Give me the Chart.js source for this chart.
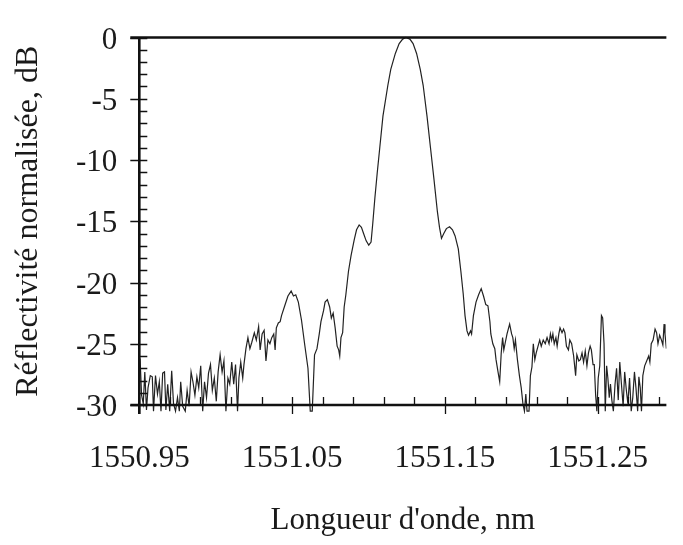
<!DOCTYPE html>
<html>
<head>
<meta charset="utf-8">
<script src="https://cdn.jsdelivr.net/npm/chart.js@4.4.1/dist/chart.umd.min.js"></script>
<style>
  html, body { margin: 0; padding: 0; background: #fff; }
  #wrap { width: 683px; height: 545px; }
</style>
</head>
<body>
<div id="wrap"><canvas id="spectrum" width="683" height="545"></canvas></div>
<script>
// Longueur d'onde (nm)
const wavelength = [
  1550.9505, 1550.9515, 1550.9526, 1550.9536, 1550.9547, 1550.9557, 1550.9572, 1550.9585, 1550.9593, 1550.9606,
  1550.9619, 1550.9631, 1550.9642, 1550.9653, 1550.9665, 1550.9674, 1550.9686, 1550.9699, 1550.9712, 1550.9724,
  1550.9737, 1550.9750, 1550.9762, 1550.9771, 1550.9784, 1550.9801, 1550.9813, 1550.9826, 1550.9839, 1550.9851,
  1550.9864, 1550.9877, 1550.9889, 1550.9902, 1550.9915, 1550.9927, 1550.9940, 1550.9953, 1550.9966, 1550.9978,
  1550.9991, 1551.0004, 1551.0016, 1551.0029, 1551.0042, 1551.0054, 1551.0067, 1551.0080, 1551.0092, 1551.0105,
  1551.0118, 1551.0130, 1551.0143, 1551.0152, 1551.0164, 1551.0177, 1551.0185, 1551.0198, 1551.0211, 1551.0224,
  1551.0236, 1551.0253, 1551.0266, 1551.0281, 1551.0291, 1551.0304, 1551.0317, 1551.0329, 1551.0342, 1551.0355,
  1551.0367, 1551.0380, 1551.0389, 1551.0397, 1551.0410, 1551.0422, 1551.0431, 1551.0452, 1551.0473, 1551.0494,
  1551.0509, 1551.0524, 1551.0541, 1551.0562, 1551.0583, 1551.0604, 1551.0619, 1551.0632, 1551.0647, 1551.0663,
  1551.0678, 1551.0689, 1551.0706, 1551.0716, 1551.0731, 1551.0746, 1551.0757, 1551.0769, 1551.0782, 1551.0795,
  1551.0805, 1551.0812, 1551.0820, 1551.0831, 1551.0841, 1551.0852, 1551.0869, 1551.0886,
  1551.0907, 1551.0922, 1551.0939, 1551.0954, 1551.0968, 1551.0985, 1551.1002, 1551.1017, 1551.1028, 1551.1042,
  1551.1057, 1551.1074, 1551.1095, 1551.1127, 1551.1146, 1551.1176, 1551.1201, 1551.1224, 1551.1245, 1551.1271,
  1551.1292, 1551.1315, 1551.1339, 1551.1358, 1551.1383, 1551.1406, 1551.1429, 1551.1451, 1551.1465, 1551.1478,
  1551.1493, 1551.1510, 1551.1531, 1551.1550, 1551.1567,
  1551.1588, 1551.1605, 1551.1620, 1551.1632, 1551.1645, 1551.1655, 1551.1668, 1551.1675, 1551.1687, 1551.1704,
  1551.1721, 1551.1738, 1551.1753, 1551.1768, 1551.1782, 1551.1795, 1551.1801, 1551.1814, 1551.1827, 1551.1835,
  1551.1848, 1551.1859, 1551.1869, 1551.1878, 1551.1886, 1551.1894, 1551.1907, 1551.1924, 1551.1937, 1551.1945,
  1551.1954, 1551.1962, 1551.1975, 1551.1988, 1551.2000, 1551.2011, 1551.2021, 1551.2030, 1551.2038, 1551.2051,
  1551.2060, 1551.2070, 1551.2079, 1551.2089, 1551.2098, 1551.2110, 1551.2121, 1551.2131, 1551.2144, 1551.2157,
  1551.2169, 1551.2182, 1551.2191, 1551.2199, 1551.2207, 1551.2216, 1551.2227, 1551.2235, 1551.2246, 1551.2254,
  1551.2267, 1551.2277, 1551.2286, 1551.2296, 1551.2309, 1551.2318, 1551.2330, 1551.2343, 1551.2356, 1551.2364,
  1551.2377, 1551.2387, 1551.2398, 1551.2408, 1551.2419, 1551.2430, 1551.2440, 1551.2451, 1551.2459, 1551.2470,
  1551.2478, 1551.2487, 1551.2495, 1551.2504, 1551.2514, 1551.2525, 1551.2533, 1551.2542, 1551.2550, 1551.2559,
  1551.2567, 1551.2576, 1551.2584, 1551.2593, 1551.2603, 1551.2614, 1551.2624, 1551.2635, 1551.2645, 1551.2656,
  1551.2667, 1551.2677, 1551.2688, 1551.2698, 1551.2709, 1551.2720, 1551.2730, 1551.2741, 1551.2751, 1551.2762,
  1551.2770, 1551.2779, 1551.2787, 1551.2796, 1551.2808, 1551.2821, 1551.2834, 1551.2842, 1551.2851, 1551.2863,
  1551.2876, 1551.2886, 1551.2895, 1551.2906, 1551.2918, 1551.2927, 1551.2935, 1551.2941, 1551.2950
];

// Réflectivité normalisée (dB)
const reflectivity = [
  -26.2, -29.2, -29.9, -27.3, -30.4, -28.6, -27.6, -27.7, -30.5, -27.6,
  -29.1, -28.1, -30.5, -27.4, -27.3, -30.4, -28.3, -30.5, -27.2, -29.9,
  -30.5, -29.4, -30.5, -28.1, -30.1, -30.5, -28.8, -30.1, -27.3, -28.1,
  -29.2, -27.7, -28.6, -26.8, -30.5, -28.1, -29.4, -27.4, -26.7, -28.8,
  -27.8, -29.7, -27.3, -25.9, -27.3, -26.4, -30.5, -27.8, -28.3, -26.5,
  -28.3, -26.7, -30.5, -27.8, -26.5, -27.8, -26.7, -25.4, -24.5, -25.4,
  -24.9, -24.1, -24.7, -23.6, -25.5, -24.2, -23.9, -26.4, -24.7, -25.0,
  -24.5, -24.2, -25.5, -23.7, -23.3, -23.2, -22.7, -21.9, -21.1, -20.7,
  -21.1, -21.0, -21.6, -23.1, -25.1, -27.0, -30.5, -30.5, -25.9, -25.4,
  -24.2, -23.2, -22.3, -21.6, -21.4, -22.0, -22.9, -22.5, -23.7, -25.2,
  -25.5, -26.0, -24.5, -24.1, -22.0, -21.0, -19.1, -17.8,
  -16.5, -15.7, -15.3, -15.5, -16.0, -16.6, -16.95, -16.7, -15.2, -13.1,
  -11.1, -9.0, -6.4, -3.9, -2.6, -1.3, -0.5, -0.13, 0.0, -0.13,
  -0.5, -1.3, -2.6, -3.9, -6.4, -9.0, -11.6, -14.2, -15.5, -16.4,
  -16.0, -15.6, -15.45, -15.7, -16.2,
  -17.25, -19.1, -20.9, -22.7, -23.95, -24.3, -23.95, -24.2, -22.7, -21.6,
  -21.0, -20.5, -21.1, -21.8, -21.9, -23.2, -24.2, -25.0, -25.4, -26.3,
  -27.3, -28.1, -25.75, -24.5, -25.5, -25.0, -24.2, -23.4, -24.2, -24.5,
  -25.4, -24.7, -26.3, -27.6, -28.6, -29.9, -30.5, -29.1, -30.5, -30.5,
  -27.6, -26.9, -25.0, -26.3, -25.75, -25.2, -24.7, -25.2, -24.7, -25.0,
  -24.5, -25.0, -24.2, -24.7, -24.2, -25.0, -24.5, -25.2, -24.2, -23.7,
  -24.1, -23.8, -24.1, -25.2, -25.5, -24.7, -25.0, -26.0, -27.6, -25.9,
  -26.4, -26.3, -25.75, -26.5, -25.6, -26.8, -25.75, -25.2, -25.5, -26.7,
  -26.7, -29.2, -30.5, -27.8, -26.8, -22.7, -22.9, -25.0, -30.5, -26.8,
  -27.8, -29.4, -28.3, -29.6, -30.5, -28.3, -27.0, -29.6, -26.5, -28.3,
  -30.1, -27.3, -28.8, -29.9, -27.8, -30.5, -29.4, -27.3, -28.6, -30.5,
  -27.7, -28.6, -30.5, -27.6, -26.8, -26.4, -26.0, -26.5, -25.0, -24.7,
  -23.8, -24.1, -25.0, -24.3, -24.7, -25.1, -23.4, -24.2, -25.4
];

const xTickValues = [1550.95, 1551.05, 1551.15, 1551.25];
const xMin = 1550.95;
const xMax = 1551.295;
const xMinorStep = 0.02;
const yMin = -30;
const yMax = 0;
const yMajorStep = 5;
const yMinorStep = 1;

const axisColor = '#111';
const fontFamily = '"Liberation Serif", "Times New Roman", serif';

// axes du cadre + graduations intérieures
const frameTicks = {
    id: 'frameTicks',
    afterDatasetsDraw(chart) {
        const { ctx, chartArea: a, scales: { x, y } } = chart;
        ctx.save();
        ctx.strokeStyle = axisColor;
        ctx.lineCap = 'butt';

        // cadre
        ctx.lineWidth = 2.6;
        ctx.beginPath();
        ctx.moveTo(a.left - 9, a.top);
        ctx.lineTo(a.right, a.top);
        ctx.moveTo(a.left - 9, a.bottom);
        ctx.lineTo(a.right, a.bottom);
        ctx.moveTo(a.left, a.top);
        ctx.lineTo(a.left, a.bottom + 9);
        ctx.stroke();

        ctx.lineWidth = 1.3;
        ctx.beginPath();
        // graduations Y
        const ySteps = Math.round((yMax - yMin) / yMinorStep);
        for (let i = 0; i <= ySteps; i++) {
            const v = yMin + i * yMinorStep;
            const py = Math.round(y.getPixelForValue(v)) + 0.5;
            const major = Math.abs(v % yMajorStep) < 1e-9;
            ctx.moveTo(major ? a.left - 9 : a.left, py);
            ctx.lineTo(a.left + 8, py);
        }
        // graduations X
        const xSteps = Math.floor((xMax - xMin) / xMinorStep + 1e-6);
        for (let i = 0; i <= xSteps; i++) {
            const v = xMin + i * xMinorStep;
            const px = Math.round(x.getPixelForValue(v)) + 0.5;
            const major = i % 5 === 0;
            ctx.moveTo(px, a.bottom - 8);
            ctx.lineTo(px, major ? a.bottom + 9 : a.bottom);
        }
        ctx.stroke();
        ctx.restore();
    }
};

const ctx = document.getElementById('spectrum').getContext('2d');
new Chart(ctx, {
    type: 'line',
    data: {
        datasets: [{
            data: wavelength.map((w, i) => ({ x: w, y: reflectivity[i] })),
            borderColor: '#222',
            borderWidth: 1.2,
            pointRadius: 0,
            tension: 0,
            fill: false,
            clip: { left: 0, top: 2, right: 0, bottom: 9 }
        }]
    },
    options: {
        responsive: false,
        animation: false,
        events: [],
        layout: { padding: { top: 17, right: 0, bottom: 0, left: 0 } },
        plugins: {
            legend: { display: false },
            tooltip: { enabled: false }
        },
        scales: {
            x: {
                type: 'linear',
                min: xMin,
                max: xMax,
                afterFit: (scale) => { scale.height = 140; },
                afterBuildTicks: (scale) => {
                    scale.ticks = xTickValues.map(v => ({ value: v }));
                },
                grid: { display: false, drawTicks: false },
                border: { display: false },
                ticks: {
                    padding: 35,
                    maxRotation: 0,
                    autoSkip: false,
                    color: '#1a1a1a',
                    font: { family: fontFamily, size: 31 },
                    callback: (v) => Number(v).toFixed(2)
                },
                title: {
                    display: true,
                    text: "Longueur d'onde, nm",
                    color: '#1a1a1a',
                    font: { family: fontFamily, size: 31 },
                    padding: { top: 0, bottom: 6 }
                }
            },
            y: {
                min: yMin,
                max: yMax,
                afterFit: (scale) => { scale.width = 139.3; },
                grid: { display: false, drawTicks: false },
                border: { display: false },
                ticks: {
                    stepSize: yMajorStep,
                    padding: 22,
                    labelOffset: 3,
                    color: '#1a1a1a',
                    font: { family: fontFamily, size: 31, lineHeight: 1 },
                    callback: (v) => String(v)
                },
                title: {
                    display: true,
                    text: 'Réflectivité normalisée, dB',
                    color: '#1a1a1a',
                    font: { family: fontFamily, size: 32 },
                    padding: { top: 9, bottom: 0 }
                }
            }
        }
    },
    plugins: [frameTicks]
});
</script>
</body>
</html>
